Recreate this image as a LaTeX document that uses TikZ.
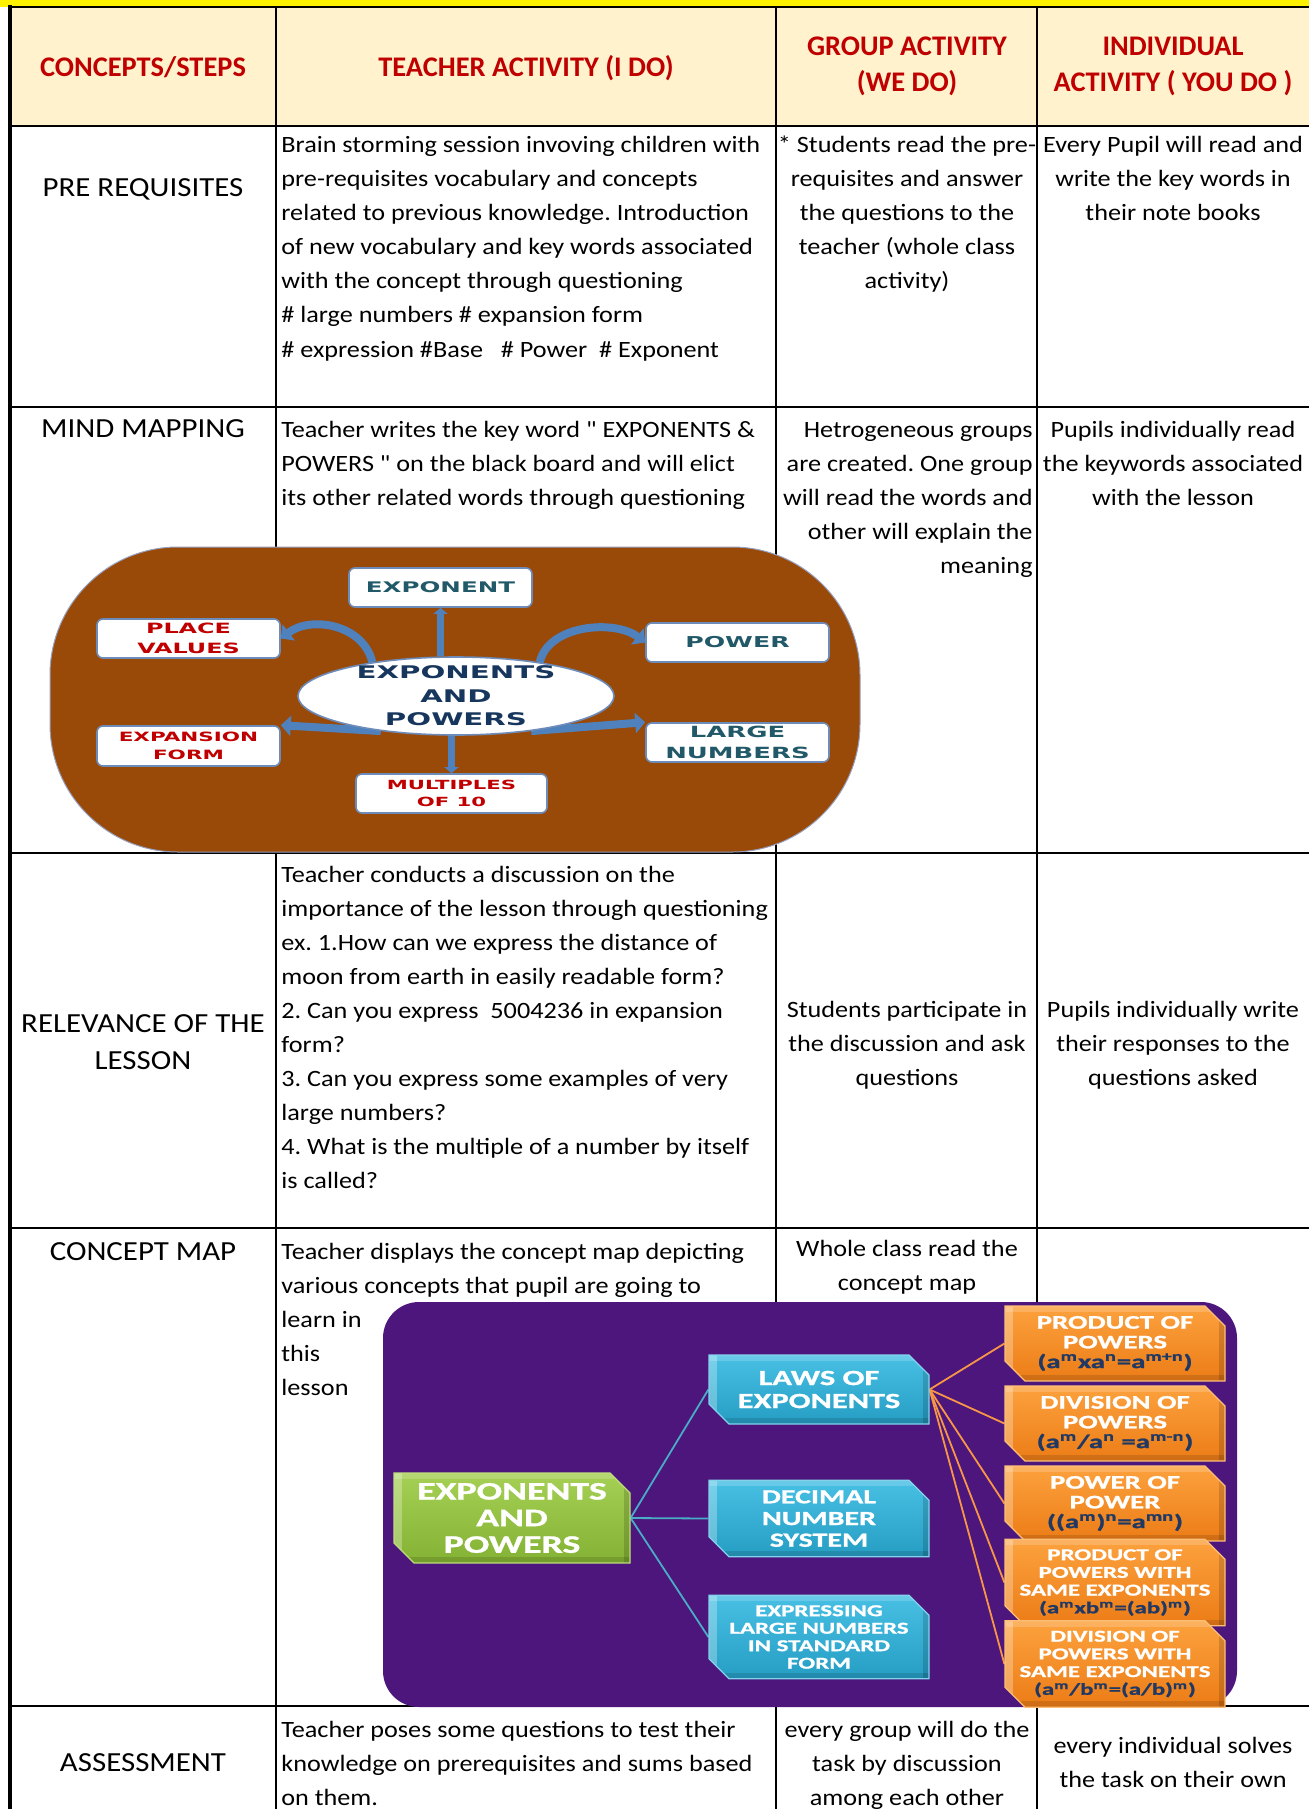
\documentclass[tikz,border=0pt]{standalone}
\usepackage{fontspec}
\setmainfont{Carlito}[FakeStretch=1.12,Ligatures=TeXOff]
\newfontfamily\hdrfont{Carlito}
\newfontfamily\mmfont{DejaVu Sans}[FakeStretch=1.68]
\newfontfamily\cmfont{Carlito}[FakeStretch=1.5,FakeBold=1.2]
\usetikzlibrary{shapes.geometric,shapes.misc,arrows.meta}
\pgfdeclarelayer{bg}
\pgfdeclarelayer{pics}
\pgfdeclarelayer{links}
\pgfsetlayers{bg,pics,links,main}

\definecolor{hdrred}{RGB}{192,0,0}
\definecolor{cream}{RGB}{255,242,204}
\definecolor{mmbrown}{RGB}{153,73,8}
\definecolor{mmblue}{RGB}{79,129,189}
\definecolor{mmborder}{RGB}{110,140,185}
\definecolor{mmteal}{RGB}{33,89,104}
\definecolor{mmred}{RGB}{192,0,0}
\definecolor{mmnavy}{RGB}{23,54,93}
\definecolor{cmpurple}{RGB}{76,22,124}
\definecolor{cmline}{RGB}{75,172,198}
\definecolor{cmorline}{RGB}{247,150,70}
\definecolor{cmnavy}{RGB}{31,56,100}
\definecolor{grT}{RGB}{165,208,85}
\definecolor{grB}{RGB}{132,178,52}
\definecolor{grE}{RGB}{190,222,120}
\definecolor{blT}{RGB}{72,192,228}
\definecolor{blB}{RGB}{38,158,196}
\definecolor{blE}{RGB}{130,210,235}
\definecolor{orT}{RGB}{252,162,62}
\definecolor{orB}{RGB}{236,124,22}
\definecolor{orE}{RGB}{253,190,120}

\newcommand\bodyfont{\fontsize{11.7}{17}\selectfont}
\newcommand\stepfont{\fontsize{13.8}{18.5}\selectfont}
\newcommand\pL[1]{\parbox[t]{262pt}{\raggedright #1}}
\newcommand\pC[1]{\parbox[t]{140pt}{\centering #1}}
\newcommand\pR[1]{\parbox[t]{140pt}{\raggedleft #1}}
\newcommand\sps[1]{\textsuperscript{#1}}
\hbadness=10000 \hfuzz=200pt \vbadness=10000 \vfuzz=200pt
\frenchspacing

\begin{document}
\begin{tikzpicture}[x=0.5pt,y=-0.5pt,
  gridline/.style={line width=1.2pt,black},
  cellL/.style={anchor=base west,inner sep=0pt,font=\bodyfont},
  cellC/.style={anchor=base,inner sep=0pt,font=\bodyfont},
  cellR/.style={anchor=base east,inner sep=0pt,font=\bodyfont},
  stepname/.style={anchor=base,inner sep=0pt,font=\stepfont},
  hdr/.style={anchor=base,inner sep=0pt,font=\hdrfont\bfseries\fontsize{14.2}{17.5}\selectfont,text=hdrred},
  mmbox/.style={draw=mmborder,line width=0.8pt,fill=white,rounded corners=3pt,
     minimum width=91.5pt,minimum height=19.5pt,inner sep=0pt,align=center},
  mmvarrow/.style={draw=mmblue,line width=3.5pt,-{Triangle[width=7pt,length=3pt]}},
  mmarrow/.style={draw=mmblue,line width=4pt,-{Triangle[width=10pt,length=5pt]}},
  bevel/.style={path picture={
     \fill[white,opacity=0.28] (path picture bounding box.north west) rectangle ([xshift=4pt]path picture bounding box.south west);
     \fill[white,opacity=0.18] (path picture bounding box.north west) rectangle ([yshift=-3pt]path picture bounding box.north east);
     \fill[black,opacity=0.15] (path picture bounding box.south east) rectangle ([xshift=-3pt]path picture bounding box.north east);
     \fill[black,opacity=0.12] (path picture bounding box.south west) rectangle ([yshift=3pt]path picture bounding box.south east);}},
  cmbox/.style={chamfered rectangle,chamfered rectangle corners={north east,south west},
     chamfered rectangle xsep=5pt,chamfered rectangle ysep=5pt,
     minimum width=110pt,minimum height=34.5pt,inner sep=0pt,align=center,text=white,bevel,line width=0.6pt},
  cmlinkB/.style={draw=cmline,line width=0.9pt},
  cmlinkO/.style={draw=cmorline,line width=0.9pt}
]
\useasboundingbox (0,0) rectangle (1309,1809);

% ---------- table background and grid ----------
\begin{pgfonlayer}{bg}
\fill[yellow] (0,0) rectangle (1309,7);
\fill[cream] (10,7) rectangle (1309,126);
\foreach \yy in {7,126,407,853,1228,1706} \draw[gridline] (10,\yy) -- (1309,\yy);
\foreach \xx in {276,776,1037} \draw[gridline] (\xx,7) -- (\xx,1809);
\draw[line width=2.2pt] (10,5.5) -- (10,1809);
\end{pgfonlayer}

% ---------- header ----------
\node[hdr] (h1) at (143,77) {CONCEPTS/STEPS};
\node[hdr] (h2) at (526,77) {TEACHER ACTIVITY (I DO)};
\node[hdr] (h3) at (907,56) {\pC{GROUP ACTIVITY\\(WE DO)}};
\node[hdr] (h4) at (1173,56) {\pC{INDIVIDUAL\\ACTIVITY ( YOU DO )}};

% ---------- pre requisites ----------
\node[stepname] (s1) at (143,196) {PRE REQUISITES};
\node[cellL] (t1) at (281,153) {\pL{Brain storming session invoving children with\\pre-requisites vocabulary and concepts\\related to previous knowledge. Introduction\\of new vocabulary and key words associated\\with the concept through questioning\\\# large numbers \# expansion form\\\# expression \#Base\ \ \ \# Power\ \ \# Exponent}};
\node[cellC] (g1) at (907,153) {\pC{* Students read the pre-\\requisites and answer\\the questions to the\\teacher (whole class\\activity)}};
\node[cellC] (i1) at (1173,153) {\pC{Every Pupil will read and\\write the key words in\\their note books}};

% ---------- mind mapping ----------
\node[stepname] (s2) at (143,437) {MIND MAPPING};
\node[cellL] (t2) at (281,437) {\pL{Teacher writes the key word " EXPONENTS \&\\POWERS " on the black board and will elict\\its other related words through questioning}};
\node[cellR] (g2) at (1033,437) {\pR{Hetrogeneous groups\\are created. One group\\will read the words and\\other will explain the\\meaning}};
\node[cellC] (i2) at (1173,437) {\pC{Pupils individually read\\the keywords associated\\with the lesson}};

% mind map picture
\begin{pgfonlayer}{pics}
\fill[mmbrown,draw={rgb,255:red,150;green,160;blue,190},line width=0.5pt,rounded corners=64pt] (50,547) rectangle (860,852);
\end{pgfonlayer}
\node[mmbox,text=mmteal,font=\mmfont\bfseries\fontsize{7.3}{9}\selectfont] (mexp) at (440.5,587.5) {EXPONENT};
\node[mmbox,text=mmred,font=\mmfont\bfseries\fontsize{7.1}{10.3}\selectfont] (mpv) at (188.5,638.5) {PLACE\\VALUES};
\node[mmbox,text=mmteal,font=\mmfont\bfseries\fontsize{7.5}{9}\selectfont] (mpw) at (737.5,642.5) {POWER};
\node[mmbox,text=mmred,font=\mmfont\bfseries\fontsize{6.4}{9}\selectfont,minimum height=20pt] (mexf) at (188.5,746) {EXPANSION\\FORM};
\node[mmbox,text=mmteal,font=\mmfont\bfseries\fontsize{7.7}{10.3}\selectfont] (mln) at (737.5,742.5) {LARGE\\NUMBERS};
\node[mmbox,text=mmred,font=\mmfont\bfseries\fontsize{6.3}{8.7}\selectfont,minimum width=95.5pt] (mmul) at (451.5,793.5) {MULTIPLES\\OF 10};
\node[ellipse,draw=mmborder,line width=0.8pt,fill=white,minimum width=158pt,minimum height=39pt,inner sep=0pt] (mctr) at (456,696) {};
\node[align=center,inner sep=0pt,text=mmnavy,font=\mmfont\bfseries\fontsize{8.7}{11.7}\selectfont] (mctrtxt) at (mctr.center) {EXPONENTS\\AND\\POWERS};
\begin{pgfonlayer}{links}
\draw[mmvarrow] (mexp.south |- mctr.north) -- (mexp.south);
\draw[mmvarrow] (mmul.north |- mctr.south) -- (mmul.north);
\draw[mmarrow] (mctr.158) .. controls +(-9,-38) and +(30,-23) .. (mpv.east);
\draw[mmarrow] (mctr.22) .. controls +(9,-38) and +(-30,-23) .. (mpw.west);
\draw[mmarrow] (mctr.205) -- (mexf.north east);
\draw[mmarrow] (mctr.-25) -- (mln.north west);
\end{pgfonlayer}

% ---------- relevance ----------
\node[stepname] (s3) at (143,1032) {\parbox[t]{140pt}{\centering RELEVANCE OF THE\\LESSON}};
\node[cellL] (t3) at (281,882) {\pL{Teacher conducts a discussion on the\\importance of the lesson through questioning\\ex. 1.How can we express the distance of\\moon from earth in easily readable form?\\2. Can you express\ \ 5004236 in expansion\\form?\\3. Can you express some examples of very\\large numbers?\\4. What is the multiple of a number by itself\\is called?}};
\node[cellC] (g3) at (907,1017) {\pC{Students participate in\\the discussion and ask\\questions}};
\node[cellC] (i3) at (1173,1017) {\pC{Pupils individually write\\their responses to the\\questions asked}};

% ---------- concept map ----------
\node[stepname] (s4) at (143,1260) {CONCEPT MAP};
\node[cellL] (t4) at (281,1259) {\pL{Teacher displays the concept map depicting\\various concepts that pupil are going to\\learn in\\this\\lesson}};
\node[cellC] (g4) at (907,1256) {\pC{Whole class read the\\concept map}};

\begin{pgfonlayer}{pics}
\fill[cmpurple,rounded corners=18pt] (383,1302) rectangle (1237,1707);
\end{pgfonlayer}
\node[cmbox,top color=grT,bottom color=grB,draw=grE,minimum width=118pt,minimum height=40pt,font=\cmfont\bfseries\fontsize{12.6}{13.3}\selectfont] (cmg) at (512,1518) {EXPONENTS\\AND\\POWERS};
\node[cmbox,top color=blT,bottom color=blB,draw=blE,font=\cmfont\bfseries\fontsize{10.8}{11.5}\selectfont] (cmlaw) at (819,1389.5) {LAWS OF\\EXPONENTS};
\node[cmbox,top color=blT,bottom color=blB,draw=blE,font=\cmfont\bfseries\fontsize{10}{10.85}\selectfont] (cmdec) at (819,1518.5) {DECIMAL\\NUMBER\\SYSTEM};
\node[cmbox,top color=blT,bottom color=blB,draw=blE,font=\cmfont\bfseries\fontsize{8.3}{8.75}\selectfont] (cmexp) at (819,1637) {EXPRESSING\\LARGE NUMBERS\\IN STANDARD\\FORM};
\node[cmbox,top color=orT,bottom color=orB,draw=orE,font=\cmfont\bfseries\fontsize{9.6}{9.85}\selectfont] (cmo1) at (1115,1343.5) {PRODUCT OF\\POWERS\\{\color{cmnavy}(a\sps{m}xa\sps{n}=a\sps{m+n})}};
\node[cmbox,top color=orT,bottom color=orB,draw=orE,font=\cmfont\bfseries\fontsize{9.6}{9.85}\selectfont] (cmo2) at (1115,1423.5) {DIVISION OF\\POWERS\\{\color{cmnavy}(a\sps{m}/a\sps{n} =a\sps{m-n})}};
\node[cmbox,top color=orT,bottom color=orB,draw=orE,font=\cmfont\bfseries\fontsize{9.6}{9.85}\selectfont] (cmo3) at (1115,1503.5) {POWER OF\\POWER\\{\color{cmnavy}((a\sps{m})\sps{n}=a\sps{mn})}};
\node[cmbox,top color=orT,bottom color=orB,draw=orE,font=\cmfont\bfseries\fontsize{8.3}{8.85}\selectfont] (cmo4) at (1115,1582.5) {PRODUCT OF\\POWERS WITH\\SAME EXPONENTS\\{\color{cmnavy}(a\sps{m}xb\sps{m}=(ab)\sps{m})}};
\node[cmbox,top color=orT,bottom color=orB,draw=orE,font=\cmfont\bfseries\fontsize{8.3}{8.85}\selectfont] (cmo5) at (1115,1664) {DIVISION OF\\POWERS WITH\\SAME EXPONENTS\\{\color{cmnavy}(a\sps{m}/b\sps{m}=(a/b)\sps{m})}};
\begin{pgfonlayer}{links}
\draw[cmlinkB] (cmg.east) -- (cmlaw.west);
\draw[cmlinkB] (cmg.east) -- (cmdec.west);
\draw[cmlinkB] (cmg.east) -- (cmexp.west);
\foreach \o in {cmo1,cmo2,cmo3,cmo4,cmo5} \draw[cmlinkO] (cmlaw.east) -- (\o.west);
\end{pgfonlayer}

% ---------- assessment ----------
\node[stepname] (s5) at (143,1771) {ASSESSMENT};
\node[cellL] (t5) at (281,1737) {\pL{Teacher poses some questions to test their\\knowledge on prerequisites and sums based\\on them.}};
\node[cellC] (g5) at (907,1737) {\pC{every group will do the\\task by discussion\\among each other}};
\node[cellC] (i5) at (1173,1753) {\pC{every individual solves\\the task on their own}};
\end{tikzpicture}
\end{document}
